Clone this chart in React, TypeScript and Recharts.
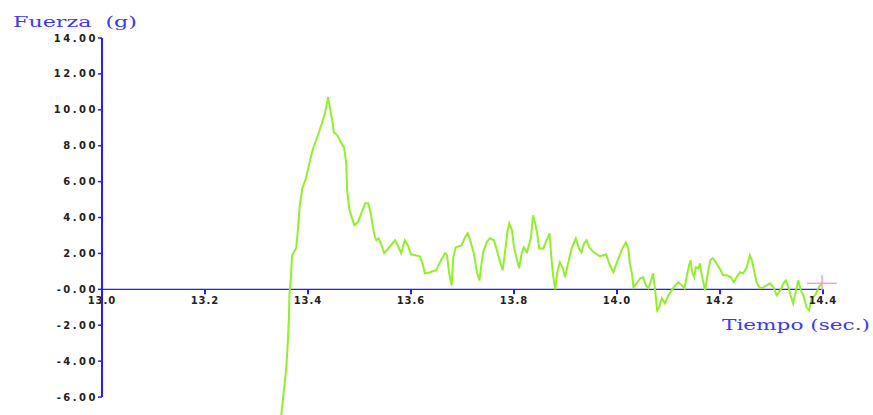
import React from 'react';
import {
  LineChart,
  Line,
  XAxis,
  YAxis,
  ReferenceLine,
  ReferenceDot,
} from 'recharts';

// Force sensor trace, time in seconds / force in grams
const times = [
  13.348, 13.357, 13.36, 13.363, 13.364, 13.367, 13.369, 13.377, 13.38, 13.384,
  13.389, 13.396, 13.404, 13.41, 13.418, 13.427, 13.433, 13.436, 13.439, 13.444,
  13.448, 13.45, 13.457, 13.465, 13.47, 13.474, 13.476, 13.48, 13.485, 13.49,
  13.497, 13.504, 13.511, 13.517, 13.522, 13.526, 13.53, 13.533, 13.537, 13.543,
  13.548, 13.556, 13.569, 13.575, 13.581, 13.588, 13.594, 13.6, 13.617,
  13.622, 13.627, 13.637, 13.649, 13.656, 13.666, 13.67, 13.674, 13.679, 13.682,
  13.687, 13.698, 13.705, 13.71, 13.715, 13.722, 13.728, 13.733, 13.736, 13.74,
  13.747, 13.753, 13.761, 13.768, 13.773,
  13.778, 13.783, 13.787, 13.791, 13.796, 13.8, 13.805, 13.81, 13.815, 13.819,
  13.825, 13.83, 13.833, 13.837, 13.842, 13.845, 13.849, 13.857, 13.863, 13.869,
  13.873, 13.876, 13.88, 13.884, 13.889, 13.895, 13.899, 13.905, 13.912, 13.92,
  13.926, 13.931, 13.936, 13.941, 13.946, 13.955, 13.967, 13.979, 13.986, 13.993,
  13.999, 14.009, 14.017, 14.022, 14.025,
  14.029, 14.032, 14.038, 14.045, 14.051, 14.056, 14.061, 14.065, 14.07, 14.074,
  14.078, 14.082, 14.087, 14.093, 14.1, 14.106, 14.113, 14.119, 14.126, 14.131,
  14.135, 14.14, 14.143, 14.146, 14.15, 14.153, 14.158, 14.161, 14.164, 14.168,
  14.171, 14.175, 14.181, 14.186, 14.192, 14.199, 14.206, 14.214, 14.221, 14.227,
  14.232, 14.239, 14.245, 14.252, 14.258, 14.262, 14.266, 14.271, 14.278, 14.284,
  14.291, 14.297, 14.304, 14.31, 14.317, 14.323, 14.328, 14.333, 14.337, 14.342,
  14.349, 14.352, 14.357, 14.362, 14.368, 14.373, 14.378, 14.385, 14.391, 14.398,
];

const forces = [
  -7.0, -4.62, -3.4, -1.62, -0.24, 0.67, 1.89, 2.28, 3.18, 4.68,
  5.63, 6.18, 7.19, 7.86, 8.47, 9.25, 9.81, 10.25, 10.7, 9.86,
  9.25, 8.75, 8.58, 8.13, 7.91, 7.08, 5.52, 4.51, 4.01, 3.57,
  3.73, 4.29, 4.79, 4.79, 4.23, 3.45, 2.9, 2.73, 2.84, 2.45,
  2.01, 2.28, 2.73, 2.4, 2.01, 2.73, 2.45, 1.95, 1.84,
  1.5, 0.89, 0.95, 1.06, 1.5, 2.01, 1.89, 0.89, 0.22, 1.78,
  2.34, 2.45, 2.9, 3.12, 2.73, 2.01, 0.95, 0.5, 1.23, 2.06,
  2.62, 2.84, 2.73, 2.06, 1.5,
  1.06, 2.17, 3.18, 3.68, 3.29, 2.34, 1.73, 1.17, 2.01, 2.34,
  2.06, 2.56, 2.9, 4.12, 3.57, 3.12, 2.28, 2.28, 2.73, 3.12,
  1.62, 0.78, 0.0, 0.95, 1.5, 1.17, 0.67, 1.45, 2.28, 2.84,
  2.28, 2.06, 2.56, 2.73, 2.34, 2.06, 1.84, 1.95, 1.34, 0.95,
  1.45, 2.17, 2.62, 2.28, 1.45,
  0.89, 0.11, 0.33, 0.61, 0.67, 0.22, 0.06, 0.39, 0.89, -0.06,
  -1.17, -1.0, -0.5, -0.78, -0.33, -0.06, 0.22, 0.39, 0.22, 0.06,
  0.67, 1.34, 1.62, 0.95, 0.67, 1.23, 1.17, 1.45, 0.89, 0.33,
  -0.06, 0.67, 1.62, 1.73, 1.5, 1.17, 0.78, 0.78, 0.67, 0.39,
  0.67, 0.95, 0.89, 1.23, 1.89, 1.62, 1.06, 0.39, 0.06, 0.11,
  0.22, 0.33, 0.11, -0.33, -0.06, 0.33, 0.5, 0.11, -0.33, -0.78,
  0.11, 0.5, -0.06, -0.33, -1.0, -1.17, -0.5, -0.33, 0.06, 0.39,
];

const xTicks = [13.0, 13.2, 13.4, 13.6, 13.8, 14.0, 14.2, 14.4];
const xTickLabels = ['13.0', '13.2', '13.4', '13.6', '13.8', '14.0', '14.2', '14.4'];
const yTicks = [-6, -4, -2, 0, 2, 4, 6, 8, 10, 12, 14];
const yTickLabels = ['-6.00', '-4.00', '-2.00', '-0.00', '2.00', '4.00', '6.00', '8.00', '10.00', '12.00', '14.00'];

const AXIS = '#1f1fff';
const TITLE = '#3a3af5';
const TRACE = '#92ef2c';
const CURSOR = '#f59be6';
const TICK_TEXT = '#222';

const data = times.map((t, i) => ({ t, f: forces[i] }));
const last = data[data.length - 1];

const YTick = (props: any) => {
  const idx = yTicks.indexOf(props.payload.value);
  return (
    <text
      x={props.x}
      y={props.y}
      dy="0.355em"
      textAnchor="end"
      fill={TICK_TEXT}
      fontSize={10}
      fontWeight="bold"
      fontFamily="DejaVu Sans"
      letterSpacing={2.5}
    >
      {yTickLabels[idx]}
    </text>
  );
};

const xTickShape = (label: string) => (props: any) => (
  <g>
    <line x1={props.cx} y1={props.cy} x2={props.cx} y2={props.cy + 5} stroke={AXIS} strokeWidth={2} />
    <text
      x={props.cx}
      y={props.cy + 15}
      textAnchor="middle"
      fill={TICK_TEXT}
      fontSize={10}
      fontWeight="bold"
      fontFamily="DejaVu Sans"
      letterSpacing={1}
    >
      {label}
    </text>
  </g>
);

const cursorShape = (props: any) => (
  <g>
    <line x1={props.cx - 15} y1={props.cy + 1} x2={props.cx + 15} y2={props.cy + 1} stroke={CURSOR} strokeWidth={1.5} />
    <line x1={props.cx} y1={props.cy - 7} x2={props.cx} y2={props.cy + 8} stroke={CURSOR} strokeWidth={1.5} />
  </g>
);

export default function App() {
  return (
    <div style={{ position: 'absolute', left: 0, top: 0, width: 873, height: 415, background: '#fff' }}>
      <LineChart width={873} height={415} data={data} margin={{ top: 38, right: 50, bottom: 0, left: 0 }}>
        <XAxis dataKey="t" type="number" domain={[13.0, 14.4]} hide allowDataOverflow />
        <YAxis
          type="number"
          domain={[-7, 14]}
          ticks={yTicks}
          width={102}
          axisLine={false}
          tickLine={{ stroke: AXIS, strokeWidth: 1.5 }}
          tickSize={4}
          tickMargin={0}
          tick={<YTick />}
          interval={0}
          allowDataOverflow
        />
        <ReferenceLine y={0} stroke={AXIS} strokeWidth={1.2} />
        <ReferenceLine segment={[{ x: 13.0, y: -6 }, { x: 13.0, y: 14 }]} stroke={AXIS} strokeWidth={2} />
        {xTicks.map((t, i) => (
          <ReferenceDot key={t} x={t} y={0} r={0} ifOverflow="visible" shape={xTickShape(xTickLabels[i])} />
        ))}
        <Line
          type="linear"
          dataKey="f"
          stroke={TRACE}
          strokeWidth={2}
          dot={false}
          activeDot={false}
          isAnimationActive={false}
        />
        <ReferenceDot x={last.t} y={last.f} r={0} ifOverflow="visible" shape={cursorShape} />
      </LineChart>
      <svg width={873} height={415} style={{ position: 'absolute', left: 0, top: 0, pointerEvents: 'none' }}>
        <text x={13} y={27} fill={TITLE} fontFamily="DejaVu Serif" fontSize={15} textLength={124} lengthAdjust="spacingAndGlyphs" style={{ whiteSpace: 'pre' }}>
          {'Fuerza  (g)'}
        </text>
        <text x={722} y={330} fill={TITLE} fontFamily="DejaVu Serif" fontSize={15} textLength={148} lengthAdjust="spacingAndGlyphs">
          Tiempo (sec.)
        </text>
      </svg>
    </div>
  );
}
